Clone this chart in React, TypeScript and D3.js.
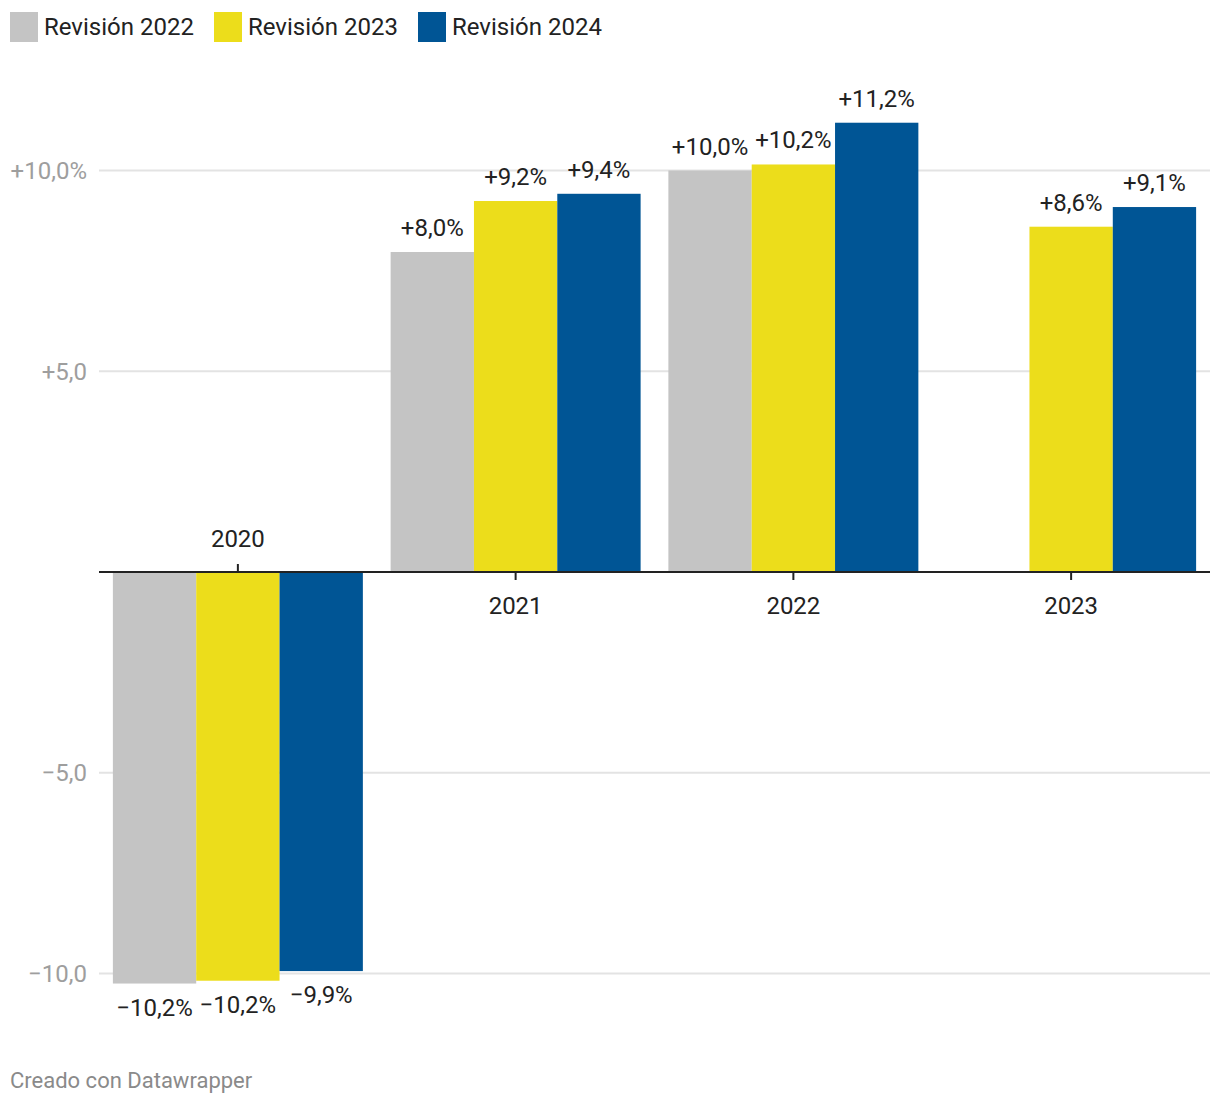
import React from "react";
import * as d3 from "d3";

const categories = ["2020", "2021", "2022", "2023"];
const seriesNames = ["Revisión 2022", "Revisión 2023", "Revisión 2024"];
const seriesColors = ["#c4c4c4", "#ecdd1b", "#005595"];
const rev2022: (number | null)[] = [-10.25, 7.97, 10.0, null];
const rev2023: (number | null)[] = [-10.18, 9.24, 10.15, 8.6];
const rev2024: (number | null)[] = [-9.94, 9.42, 11.19, 9.09];
const labels2022 = ["−10,2%", "+8,0%", "+10,0%", ""];
const labels2023 = ["−10,2%", "+9,2%", "+10,2%", "+8,6%"];
const labels2024 = ["−9,9%", "+9,4%", "+11,2%", "+9,1%"];
const yTicks = [10, 5, -5, -10];
const yTickLabels = ["+10,0%", "+5,0", "−5,0", "−10,0"];

const W = 1220;
const H = 1106;
const FONT = "Roboto, 'Noto Sans', sans-serif";

export default function App() {
  const series = [rev2022, rev2023, rev2024];
  const seriesLabels = [labels2022, labels2023, labels2024];
  const x0 = d3.scaleBand<string>().domain(categories).range([99, 1210]).paddingInner(0.1).paddingOuter(0.05);
  const x1 = d3.scaleBand<number>().domain([0, 1, 2]).range([0, x0.bandwidth()]);
  const y = d3.scaleLinear().domain([-10, 10]).range([973.5, 170.5]);
  const y0 = y(0);

  const legendX = [10, 214, 418];

  return (
    <svg width={W} height={H} style={{ position: "absolute", left: 0, top: 0, background: "#fff" }} fontFamily={FONT}>
      {/* legend */}
      {seriesNames.map((n, i) => (
        <g key={n}>
          <rect x={legendX[i]} y={12} width={28} height={30} fill={seriesColors[i]} />
          <text x={legendX[i] + 34} y={34.5} fontSize={24} fill="#222">{n}</text>
        </g>
      ))}
      {/* grid */}
      {yTicks.map((t, i) => (
        <g key={t}>
          <line x1={99} x2={1210} y1={y(t)} y2={y(t)} stroke="#e3e3e3" strokeWidth={2} />
          <text x={87} y={y(t) + 8.5} textAnchor="end" fontSize={24} fill="#9e9e9e">{yTickLabels[i]}</text>
        </g>
      ))}
      {/* bars */}
      {categories.map((c, ci) => (
        <g key={c} transform={`translate(${x0(c)},0)`}>
          {series.map((s, si) => {
            const v = s[ci];
            if (v == null) return null;
            const bx = x1(si)!;
            const bw = x1.bandwidth();
            const top = Math.min(y(v), y0);
            const h = Math.abs(y(v) - y0);
            return (
              <g key={si}>
                <rect x={bx} y={top} width={bw} height={h} fill={seriesColors[si]} />
                <text
                  x={bx + bw / 2}
                  y={v >= 0 ? y(v) - 16 : y(v) + 32}
                  textAnchor="middle"
                  fontSize={24}
                  fill="#222"
                >
                  {seriesLabels[si][ci]}
                </text>
              </g>
            );
          })}
        </g>
      ))}
      {/* zero axis */}
      <line x1={99} x2={1210} y1={y0} y2={y0} stroke="#222" strokeWidth={2} />
      {categories.map((c, ci) => {
        const cx = x0(c)! + x0.bandwidth() / 2;
        const neg = (rev2024[ci] ?? rev2023[ci] ?? 0) < 0;
        return (
          <g key={c}>
            <line x1={cx} x2={cx} y1={neg ? y0 - 8 : y0} y2={neg ? y0 : y0 + 8} stroke="#222" strokeWidth={2} />
            <text x={cx} y={neg ? y0 - 25.5 : y0 + 41.5} textAnchor="middle" fontSize={24} fill="#222">{c}</text>
          </g>
        );
      })}
      <text x={10} y={1088} fontSize={22} fill="#8a8a8a">Creado con Datawrapper</text>
    </svg>
  );
}
